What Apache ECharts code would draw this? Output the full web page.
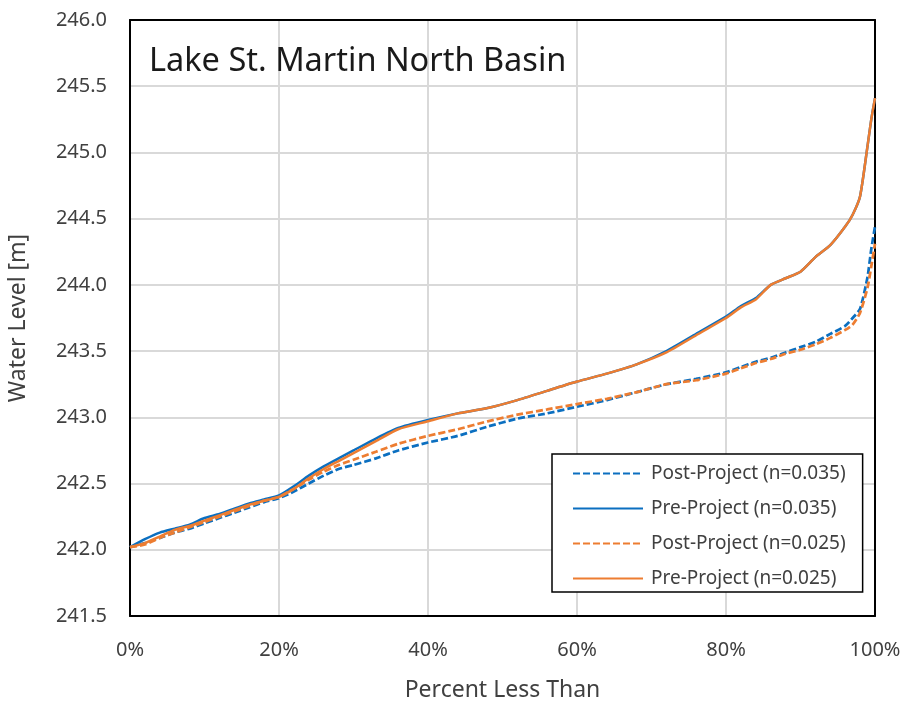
<!DOCTYPE html>
<html>
<head>
<meta charset="utf-8">
<script src="https://cdn.jsdelivr.net/npm/echarts@6/dist/echarts.min.js"></script>
<style>
  html, body { margin: 0; padding: 0; background: #fff; }
  #chart { width: 906px; height: 701px; }
</style>
</head>
<body>
<div id="chart"></div>
<script>
// Exceedance-style curves: percent of time the water level is below a given value
const percentLessThan = [0, 2, 4, 6, 8, 10, 12, 14, 16, 18, 20, 22, 24, 26, 28, 30, 33, 36, 40, 44, 48, 52, 56, 60, 64, 68, 72, 76, 80, 82, 84, 86, 88, 90, 92, 94, 96, 97, 98, 99, 99.5, 100];

const postProject035 = [242.02, 242.05, 242.09, 242.13, 242.16, 242.20, 242.24, 242.28, 242.32, 242.36, 242.39, 242.44, 242.50, 242.56, 242.61, 242.64, 242.69, 242.75, 242.81, 242.86, 242.93, 242.99, 243.03, 243.08, 243.13, 243.19, 243.25, 243.29, 243.34, 243.38, 243.42, 243.45, 243.49, 243.53, 243.57, 243.63, 243.69, 243.75, 243.82, 244.06, 244.27, 244.44];

const preProject035 = [242.02, 242.08, 242.13, 242.16, 242.19, 242.24, 242.27, 242.31, 242.35, 242.38, 242.41, 242.48, 242.56, 242.63, 242.69, 242.75, 242.84, 242.92, 242.98, 243.03, 243.07, 243.13, 243.20, 243.27, 243.33, 243.40, 243.50, 243.63, 243.76, 243.84, 243.90, 244.00, 244.05, 244.10, 244.21, 244.30, 244.44, 244.53, 244.67, 245.05, 245.25, 245.41];

const postProject025 = [242.02, 242.04, 242.09, 242.13, 242.17, 242.21, 242.25, 242.29, 242.33, 242.37, 242.40, 242.46, 242.53, 242.59, 242.64, 242.68, 242.74, 242.80, 242.86, 242.91, 242.97, 243.02, 243.06, 243.10, 243.14, 243.19, 243.25, 243.28, 243.33, 243.37, 243.41, 243.44, 243.48, 243.51, 243.55, 243.60, 243.66, 243.70, 243.79, 243.98, 244.14, 244.31];

const preProject025 = [242.02, 242.05, 242.10, 242.15, 242.18, 242.22, 242.26, 242.30, 242.34, 242.37, 242.40, 242.46, 242.54, 242.61, 242.67, 242.73, 242.82, 242.91, 242.97, 243.03, 243.07, 243.13, 243.20, 243.27, 243.33, 243.40, 243.49, 243.62, 243.75, 243.83, 243.89, 244.00, 244.05, 244.10, 244.21, 244.30, 244.44, 244.53, 244.67, 245.05, 245.25, 245.41];

const seriesNames = ['Post-Project (n=0.035)', 'Pre-Project (n=0.035)', 'Post-Project (n=0.025)', 'Pre-Project (n=0.025)'];
const seriesValues = [postProject035, preProject035, postProject025, preProject025];
const seriesColors = ['#0B6FC0', '#0B6FC0', '#ED7D31', '#ED7D31'];
const seriesDashed = [true, false, true, false];

const FONT = '"Noto Sans", "Open Sans", sans-serif';
const TEXT = '#404040';
const FRAME = { show: true, onZero: false, lineStyle: { color: '#000000', width: 2 } };

const pairs = vals => percentLessThan.map((p, i) => [p, vals[i]]);

const chart = echarts.init(document.getElementById('chart'), null, { renderer: 'canvas' });

// bare axes on the top and right close the black plot frame
const frameX = { type: 'value', min: 0, max: 100, position: 'top', axisLine: FRAME,
  axisTick: { show: false }, axisLabel: { show: false }, splitLine: { show: false } };
const frameY = { type: 'value', min: 241.5, max: 246.0, position: 'right', axisLine: FRAME,
  axisTick: { show: false }, axisLabel: { show: false }, splitLine: { show: false } };

chart.setOption({
  animation: false,
  backgroundColor: '#ffffff',
  textStyle: { fontFamily: FONT },
  title: {
    text: 'Lake St. Martin North Basin',
    left: 144,
    top: 40,
    textStyle: { fontFamily: FONT, fontSize: 32.5, fontWeight: 'normal', color: '#1a1a1a' }
  },
  grid: {
    left: 130, top: 20, right: 31, bottom: 85,
    containLabel: false,
    outerBoundsMode: 'none'
  },
  legend: {
    orient: 'vertical',
    left: 552,
    top: 454,
    padding: [10, 17, 4, 20],
    itemGap: 16,
    itemWidth: 70,
    itemHeight: 14,
    backgroundColor: '#ffffff',
    borderColor: '#000000',
    borderWidth: 1.5,
    borderRadius: 0,
    data: seriesNames,
    // line-only keys: the marker dot is hidden
    itemStyle: { opacity: 0 },
    textStyle: { fontFamily: FONT, fontSize: 19, color: TEXT, padding: [0, 0, 0, 3] }
  },
  xAxis: [{
    type: 'value',
    min: 0,
    max: 100,
    interval: 20,
    name: 'Percent Less Than',
    nameLocation: 'middle',
    nameGap: 63,
    nameTextStyle: { fontFamily: FONT, fontSize: 23, color: TEXT },
    axisLine: FRAME,
    axisTick: { show: false },
    axisLabel: {
      margin: 24,
      fontFamily: FONT, fontSize: 20, color: TEXT,
      formatter: v => v + '%'
    },
    splitLine: { show: true, lineStyle: { color: '#d9d9d9', width: 2 } }
  }, frameX],
  yAxis: [{
    type: 'value',
    min: 241.5,
    max: 246.0,
    interval: 0.5,
    name: 'Water Level [m]',
    nameLocation: 'middle',
    nameGap: 100,
    nameTextStyle: { fontFamily: FONT, fontSize: 23, color: TEXT },
    axisLine: FRAME,
    axisTick: { show: false },
    axisLabel: {
      margin: 23,
      fontFamily: FONT, fontSize: 20, color: TEXT,
      formatter: v => v.toFixed(1)
    },
    splitLine: { show: true, lineStyle: { color: '#d9d9d9', width: 2 } }
  }, frameY],
  series: seriesNames.map((name, i) => ({
    name: name,
    type: 'line',
    xAxisIndex: 0,
    yAxisIndex: 0,
    data: pairs(seriesValues[i]),
    showSymbol: false,
    symbol: 'none',
    smooth: 0.2,
    lineStyle: {
      color: seriesColors[i],
      width: seriesDashed[i] ? 2.75 : 2.5,
      type: seriesDashed[i] ? [7, 3] : 'solid'
    },
    itemStyle: { color: seriesColors[i] },
    z: 2 + i
  }))
});
</script>
</body>
</html>
